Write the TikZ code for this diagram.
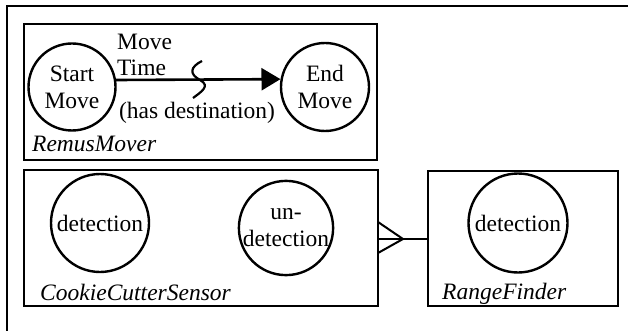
\documentclass[tikz,border=0pt]{standalone}
\usepackage{fontspec}
\setmainfont{Liberation Serif}
\usetikzlibrary{arrows.meta}
\begin{document}
\begin{tikzpicture}[x=1pt,y=-1pt,
  box/.style={draw,line width=1.8pt},
  st/.style={draw,circle,line width=2.4pt,inner sep=0pt,align=center,font=\fontsize{23.5}{27}\selectfont},
  lbl/.style={inner sep=0pt,font=\fontsize{23.5}{27}\selectfont},
  cls/.style={inner sep=0pt,anchor=base west,font=\fontsize{23.5}{27}\selectfont\itshape}]
\useasboundingbox (0,0) rectangle (628,331);
\clip (0,0) rectangle (628,331);
% outer frame
\draw[line width=2pt] (7,6) rectangle (650,350);
% boxes
\draw[box] (24,24) rectangle (377,160);
\draw[box] (24,170) rectangle (378,306);
\draw[box] (428,171) rectangle (618,306);
% states
\node[st,minimum size=87pt] (sm) at (72,87) {Start\\Move};
\node[st,minimum size=88pt] (em) at (325,87) {End\\Move};
\node[st,minimum size=98pt] (d1) at (100,223) {detection};
\node[st,minimum size=94pt] (ud) at (286,228) {un-\\detection};
\node[st,minimum size=99pt] (d2) at (518,223) {detection};
% transition
\draw[line width=2.6pt,-{Triangle[length=19pt,width=22pt]}] (sm.9.5) -- (em.170.5);
\coordinate (sq) at (200,80);
\draw[line width=2.2pt] ([shift={(2,-19)}]sq) .. controls ([shift={(-10,-13)}]sq) and ([shift={(-11,-6)}]sq) .. (sq)
  .. controls ([shift={(11,6)}]sq) and ([shift={(1,12)}]sq) .. ([shift={(-7,18)}]sq);
\node[lbl,anchor=base west] (mv) at (117,50) {Move};
\node[lbl,anchor=base west] (tm) at (117,76) {Time};
\node[lbl,anchor=base] (hd) at (197,119) {(has destination)};
% class labels
\node[cls] (rm) at (32,152) {RemusMover};
\node[cls] (cc) at (40,300) {CookieCutterSensor};
\node[cls] (rf) at (442,299) {RangeFinder};
% crow's-foot connector
\coordinate (ap) at (403,239);
\coordinate (c1) at (378,222);
\coordinate (c2) at (378,253);
\coordinate (c0) at (378,239);
\coordinate (rfl) at (428,239);
\draw[line width=2pt] (c1) -- (ap) -- (c2);
\draw[line width=2pt] (c0) -- (rfl);
\end{tikzpicture}
\end{document}
